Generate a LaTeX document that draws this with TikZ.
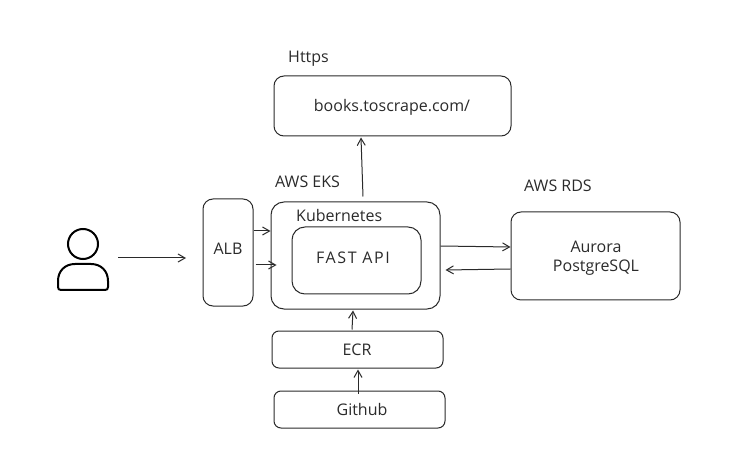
\documentclass[tikz,border=0pt]{standalone}
\usepackage{fontspec}
\setmainfont{Open Sans}
\usetikzlibrary{arrows.meta}
\definecolor{inkline}{HTML}{2A2A2A}
\tikzset{>={Straight Barb[length=7pt,width=8pt]}}
\tikzset{
    box/.style={draw=inkline, line width=1pt, rounded corners=10pt, inner sep=0pt},
    label/.style={text=inkline, font=\fontsize{16}{19}\selectfont, inner sep=0pt},
    widelabel/.style={label, font=\fontsize{16}{19}\selectfont\addfontfeatures{LetterSpace=10}},
    link/.style={draw=inkline, line width=1pt, ->}
}
\begin{document}
\begin{tikzpicture}[x=1pt, y=-1pt]
    \useasboundingbox(0, 0)rectangle(734, 473);
    % boxes
    \node[box, minimum width=237pt, minimum height=60pt](books)at(392.5, 106){};
    \node[box, minimum width=50pt, minimum height=107pt](alb)at(228, 252.5){};
    \node[box, minimum width=169pt, minimum height=107pt, rounded corners=13pt](kube)at(355.5, 255.5){};
    \node[box, minimum width=129pt, minimum height=67pt, rounded corners=13pt](fastapi)at(356.5, 260.5){};
    \node[box, minimum width=169pt, minimum height=88pt](aurora)at(595.5, 256){};
    \node[box, minimum width=171pt, minimum height=37pt, rounded corners=7pt](ecr)at(357.5, 349.5){};
    \node[box, minimum width=171pt, minimum height=37pt, rounded corners=7pt](github)at(359.5, 409.5){};
    % texts
    \node[label](booksText)at(392, 107){books.toscrape.com/};
    \node[label](albText)at(228, 249){ALB};
    \node[widelabel](fastText)at(353, 258){FAST API};
    \node[label, align=center](auroraText)at(596, 258){Aurora\\PostgreSQL};
    \node[label](ecrText)at(357, 350){ECR};
    \node[label](githubText)at(362, 409){Github};
    \node[label, anchor=west](httpsText)at(288, 59){Https};
    \node[label, anchor=west](eksText)at(275, 182){AWS EKS};
    \node[label, anchor=west](rdsText)at(524, 186){AWS RDS};
    \node[label, anchor=west](kubeText)at(296, 216){Kubernetes};
    % user
    \node[draw=black, line width=2pt, circle, minimum size=30pt, inner sep=0pt](head)at(83, 244){};
    \draw[black, line width=2pt, line join=round](61, 290)..controls(59, 290)and(58, 289)..(58, 287)--(58, 281)..controls(58, 271)and(65, 264)..(75, 264)--(91, 264)..controls(101, 264)and(108, 271)..(108, 281)--(108, 287)..controls(108, 289)and(107, 290)..(105, 290)--cycle;
    \coordinate(userEnd)at(118, 258);
    \coordinate(albIn)at(186, 258);
    % links
    \draw[link](userEnd)--(albIn);
    \draw[link]([yshift=21.5pt]alb.east)--([yshift=24.5pt]kube.west);
    \draw[link]([xshift=2pt, yshift=-12.5pt]alb.east)--([xshift=6pt, yshift=-9.5pt]kube.west);
    \draw[link]([xshift=7.5pt, yshift=5pt]kube.north)--([xshift=-31.5pt, yshift=-1pt]books.south);
    \draw[link]([yshift=9.5pt]kube.east)--([yshift=9pt]aurora.west);
    \draw[link]([yshift=-13pt]aurora.west)--([xshift=5pt, yshift=-14.5pt]kube.east);
    \draw[link]([xshift=-5.5pt, yshift=1pt]ecr.north)--([xshift=-2.5pt, yshift=-1pt]kube.south);
    \draw[link]([xshift=-1.5pt, yshift=-3pt]github.north)--([xshift=.5pt, yshift=-1pt]ecr.south);
\end{tikzpicture}
\end{document}
